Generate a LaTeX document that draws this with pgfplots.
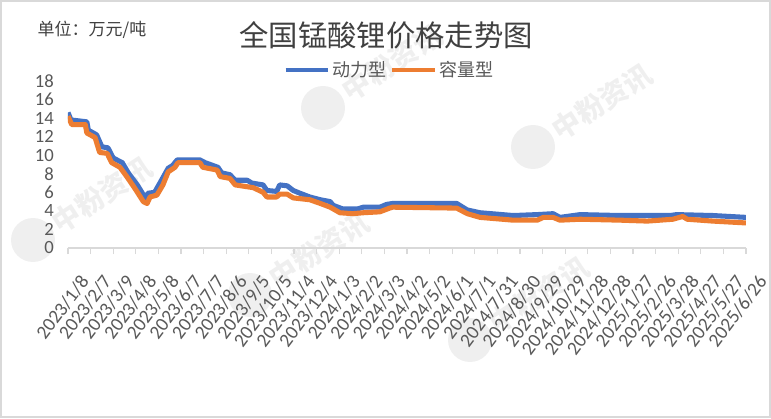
\documentclass[border=0pt]{standalone}
\usepackage{fontspec}
\usepackage{graphicx}
\usepackage{pgfplots}
\pgfplotsset{compat=1.18}
\setmainfont{Carlito}
\newfontfamily\cjk{Noto Sans CJK SC}
\definecolor{blueS}{HTML}{4472C4}
\definecolor{orangeS}{HTML}{ED7D31}
\definecolor{txt}{HTML}{595959}
\definecolor{ttl}{HTML}{404040}
\definecolor{axisgray}{HTML}{D9D9D9}

\begin{document}
\begin{tikzpicture}[x=0.75pt,y=0.75pt]
\path[use as bounding box] (0,0) rectangle (771,418);
\fill[white] (0,0) rectangle (771,418);
\draw[axisgray, line width=1.5pt] (1,1) rectangle (770,417);
% watermarks
\foreach \lx/\ly in {323/310, 533/271, 33/178, 250/123, 470/78} {
  \fill[gray, opacity=0.12] (\lx,\ly) circle (22);
  \node[gray, opacity=0.12, rotate=33, anchor=west, font=\cjk\fontsize{21}{21}\selectfont\bfseries] at (\lx+18,\ly+12) {中粉资讯};
}
\node[ttl, font=\cjk\fontsize{22}{22}\selectfont] at (386,383) {全国锰酸锂价格走势图};
\node[ttl, anchor=west, font=\cjk\fontsize{12.75}{12.75}\selectfont] at (33,388) {单位：万元/吨};
\begin{axis}[
  at={(51pt,127.5pt)}, anchor=south west,
  scale only axis, width=508.5pt, height=125.25pt,
  xmin=0, xmax=900, ymin=0, ymax=18,
  axis x line*=bottom, axis y line*=left,
  y axis line style={draw=none},
  x axis line style={draw=axisgray, line width=1.2pt, -},
  ytick={0,2,...,18},
  xtick={0,30,...,900},
  xticklabels={2023/1/8,2023/2/7,2023/3/9,2023/4/8,2023/5/8,2023/6/7,2023/7/7,2023/8/6,2023/9/5,2023/10/5,2023/11/4,2023/12/4,2024/1/3,2024/2/2,2024/3/3,2024/4/2,2024/5/2,2024/6/1,2024/7/1,2024/7/31,2024/8/30,2024/9/29,2024/10/29,2024/11/28,2024/12/28,2025/1/27,2025/2/26,2025/3/28,2025/4/27,2025/5/27,2025/6/26},
  tick align=outside,
  major tick length=4.5pt,
  xtick style={draw=axisgray, line width=0.9pt},
  ytick style={draw=none},
  tick label style={font=\fontsize{14}{14}\selectfont, text=txt},
  /pgf/number format/assume math mode=true,
  xticklabel style={xshift=8pt, yshift=-13pt, rotate=53, anchor=north east, inner sep=1pt, font=\fontsize{14.5}{14.5}\selectfont},
  yticklabel style={anchor=east, inner sep=0pt, xshift=-6pt},
  legend style={at={(0.474,1.066)}, anchor=center, draw=none, fill=none,
    font=\cjk\fontsize{13.5}{13.5}\selectfont, text=txt,
    nodes={inner sep=1.5pt}, /tikz/every even column/.append style={column sep=1pt}},
  legend columns=2,
  legend image code/.code={\draw[#1, line width=3.6pt] (0pt,0pt) -- (32pt,0pt);},
]
\addplot[blueS, line width=3.8pt, line join=round] coordinates {
(0,14.6) (4,13.8) (25,13.6) (27,12.7) (38,12.2) (45,10.9) (53,10.8) (60,9.7)
(72,9.2) (80,8.1) (92,6.8) (104,5.2) (106,5.9) (115,6.0) (122,7.0) (133,8.6)
(139,8.9) (145,9.5) (175,9.5) (182,9.2) (199,8.7) (204,8.1) (215,7.9) (222,7.3)
(238,7.3) (244,7.0) (259,6.8) (264,6.2) (277,6.1) (281,6.8) (291,6.7) (299,6.2)
(308,5.9) (321,5.5) (335,5.2) (348,5.0) (352,4.6) (365,4.2) (384,4.2) (392,4.4)
(414,4.4) (423,4.7) (431,4.8) (516,4.8) (530,4.1) (547,3.8) (591,3.5) (623,3.6)
(644,3.7) (653,3.3) (680,3.6) (733,3.5) (799,3.5) (808,3.6) (856,3.5) (900,3.3)
};
\addlegendentry{动力型}
\addplot[orangeS, line width=3.8pt, line join=round] coordinates {
(0,14.2) (5,13.3) (23,13.3) (25,12.4) (36,11.9) (42,10.3) (52,10.2) (58,9.2)
(69,8.7) (78,7.7) (89,6.4) (100,5.0) (105,4.8) (109,5.5) (118,5.7) (126,6.8)
(133,8.2) (142,8.7) (146,9.2) (175,9.2) (179,8.7) (198,8.4) (202,7.7) (215,7.5)
(222,6.8) (238,6.6) (246,6.5) (259,6.0) (264,5.5) (277,5.5) (281,5.8) (291,5.8)
(299,5.4) (321,5.2) (335,4.8) (348,4.4) (361,3.8) (378,3.7) (392,3.8) (414,3.9)
(427,4.3) (431,4.4) (516,4.3) (530,3.7) (547,3.3) (591,3.0) (623,3.0) (631,3.3)
(644,3.3) (653,3.0) (680,3.1) (733,3.0) (769,2.9) (803,3.1) (816,3.4) (822,3.1)
(856,2.9) (900,2.7)
};
\addlegendentry{容量型}
\end{axis}
\end{tikzpicture}
\end{document}
